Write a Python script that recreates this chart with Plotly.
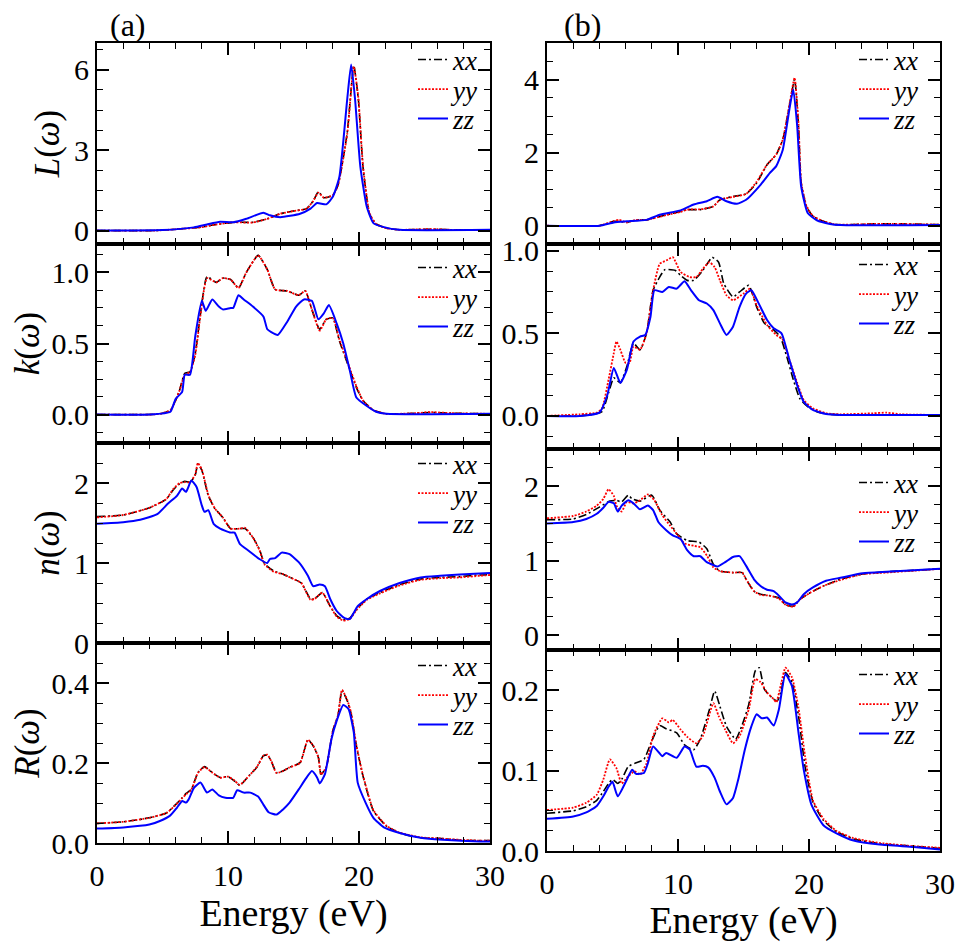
import plotly.graph_objects as go

# ---------------- data ----------------
# (a) column: L(w)
aL_E = [0, 4, 4.8, 6, 7.9, 9, 10.4, 11.9, 13, 14, 15, 16, 16.5, 16.9, 17.3, 18, 18.4, 19.1, 19.6, 19.95, 20.3, 20.8, 21.3, 22.1, 23.1, 25, 26, 27, 30]
aL_xx = [0, 0, 0.01, 0.05, 0.13, 0.22, 0.31, 0.31, 0.44, 0.63, 0.73, 0.82, 1.1, 1.45, 1.23, 1.32, 1.7, 3.65, 6.16, 4.9, 2.4, 0.63, 0.25, 0.09, 0.03, 0.05, 0.05, 0.03, 0.02]
aL_yy = [0, 0, 0.01, 0.05, 0.12, 0.22, 0.31, 0.30, 0.44, 0.63, 0.73, 0.82, 1.1, 1.42, 1.23, 1.32, 1.7, 3.6, 6.12, 4.95, 2.45, 0.65, 0.25, 0.09, 0.03, 0.05, 0.05, 0.03, 0.02]
aL_E_zz = [0, 5, 7.4, 8.4, 9.4, 10.4, 11.4, 12.7, 13.2, 14, 15.5, 16.3, 16.8, 17.5, 18, 18.5, 19.1, 19.4, 19.7, 20.1, 20.6, 21.1, 21.9, 23.1, 30]
aL_zz = [0, 0.02, 0.12, 0.23, 0.33, 0.31, 0.44, 0.67, 0.57, 0.5, 0.63, 0.82, 1.03, 0.98, 1.26, 2.0, 4.9, 6.2, 4.9, 2.4, 0.88, 0.28, 0.13, 0.03, 0.03]

# (b) column: L(w)
bL_E = [0, 4.0, 5.1, 5.5, 6.1, 6.8, 7.6, 9.1, 10.2, 10.7, 11.7, 12.7, 13.2, 14.2, 15.2, 16.0, 16.8, 17.5, 18.0, 18.5, 18.9, 19.2, 19.4, 19.8, 20.3, 21.1, 22.1, 25, 27, 30]
bL_xx = [0, 0, 0.12, 0.12, 0.09, 0.16, 0.16, 0.30, 0.39, 0.44, 0.44, 0.53, 0.71, 0.80, 0.87, 1.17, 1.67, 1.95, 2.36, 3.27, 4.0, 2.72, 1.17, 0.53, 0.26, 0.12, 0.03, 0.05, 0.05, 0.03]
bL_yy = [0, 0, 0.13, 0.16, 0.09, 0.16, 0.16, 0.29, 0.38, 0.44, 0.45, 0.53, 0.71, 0.79, 0.87, 1.2, 1.67, 1.95, 2.36, 3.3, 4.05, 2.8, 1.2, 0.55, 0.27, 0.12, 0.03, 0.05, 0.05, 0.03]
bL_E_zz = [0, 4, 5.1, 6.1, 7.6, 8.6, 10.2, 11.2, 12.2, 13, 13.7, 14.5, 15.2, 16.3, 17, 17.5, 18, 18.5, 18.8, 19.1, 19.4, 19.9, 20.6, 21.6, 22.4, 30]
bL_zz = [0, 0, 0.09, 0.12, 0.16, 0.30, 0.42, 0.58, 0.67, 0.79, 0.67, 0.60, 0.71, 1.12, 1.44, 1.63, 2.08, 3.18, 3.73, 2.72, 1.08, 0.35, 0.15, 0.05, 0.02, 0.02]

# (a) column: k(w)
ak_E = [0, 4.0, 4.8, 5.6, 6.0, 6.3, 6.7, 7.1, 7.5, 7.9, 8.4, 9.1, 9.6, 10.2, 10.8, 11.4, 12.3, 13.0, 13.6, 14.5, 15.4, 15.9, 16.4, 17.0, 17.5, 18.0, 18.5, 19.2, 19.8, 20.3, 21.1, 22.1, 24.4, 25.4, 27, 30]
ak_xx = [0, 0, 0.005, 0.03, 0.10, 0.17, 0.29, 0.30, 0.43, 0.71, 0.97, 0.93, 0.96, 0.95, 0.89, 1.0, 1.12, 1.02, 0.88, 0.87, 0.84, 0.87, 0.74, 0.60, 0.67, 0.68, 0.52, 0.34, 0.19, 0.10, 0.03, 0.005, 0.01, 0.015, 0.01, 0.005]
ak_yy = [0, 0, 0.005, 0.03, 0.10, 0.17, 0.28, 0.30, 0.42, 0.70, 0.96, 0.93, 0.96, 0.95, 0.89, 1.0, 1.12, 1.02, 0.88, 0.87, 0.84, 0.87, 0.74, 0.59, 0.67, 0.68, 0.53, 0.35, 0.20, 0.10, 0.03, 0.005, 0.01, 0.018, 0.01, 0.005]
ak_E_zz = [0, 4, 5.6, 6.0, 6.5, 6.7, 7.1, 7.5, 8.0, 8.3, 8.8, 9.3, 9.6, 10.2, 10.4, 10.8, 11.2, 11.9, 12.7, 13.0, 13.3, 13.8, 14.5, 15.2, 15.8, 16.4, 16.9, 17.3, 17.7, 18.3, 18.8, 19.3, 19.8, 20.6, 21.3, 22.1, 30]
ak_zz = [0, 0, 0.02, 0.11, 0.16, 0.28, 0.28, 0.55, 0.80, 0.73, 0.81, 0.76, 0.74, 0.75, 0.75, 0.84, 0.81, 0.76, 0.69, 0.60, 0.58, 0.56, 0.65, 0.76, 0.81, 0.80, 0.67, 0.71, 0.77, 0.64, 0.50, 0.31, 0.12, 0.06, 0.02, 0.005, 0.005]

# (b) column: k(w)
bk_E_xx = [0, 2.5, 3.5, 4.2, 4.7, 5.1, 5.6, 6.1, 6.6, 7.1, 7.6, 8.1, 8.6, 9.0, 9.8, 10.2, 10.7, 11.2, 11.8, 12.4, 12.6, 13.1, 13.5, 14.2, 14.7, 15.4, 16.0, 16.6, 17.3, 17.8, 18.3, 18.8, 19.3, 19.9, 20.6, 21.3, 22.4, 30]
bk_xx = [0, 0, 0.01, 0.026, 0.14, 0.23, 0.20, 0.30, 0.44, 0.40, 0.50, 0.76, 0.84, 0.885, 0.88, 0.85, 0.82, 0.82, 0.87, 0.94, 0.96, 0.93, 0.80, 0.72, 0.75, 0.79, 0.66, 0.56, 0.52, 0.48, 0.36, 0.22, 0.105, 0.056, 0.026, 0.012, 0.006, 0.006]
bk_E_yy = [0, 2.5, 3.8, 4.2, 4.7, 5.1, 5.3, 5.6, 6.0, 6.3, 6.6, 7.1, 7.6, 8.1, 8.6, 9.1, 9.6, 10.2, 10.9, 11.4, 11.9, 12.4, 12.8, 13.2, 13.7, 14.2, 15.0, 15.5, 16.0, 16.8, 17.5, 18.0, 18.5, 19.1, 19.6, 20.3, 21.3, 22.4, 24.9, 25.9, 27, 30]
bk_yy = [0, 0.01, 0.02, 0.045, 0.22, 0.38, 0.45, 0.40, 0.32, 0.32, 0.42, 0.40, 0.50, 0.76, 0.92, 0.94, 0.96, 0.87, 0.84, 0.84, 0.89, 0.93, 0.90, 0.82, 0.73, 0.70, 0.74, 0.77, 0.67, 0.55, 0.49, 0.46, 0.34, 0.20, 0.095, 0.046, 0.016, 0.01, 0.016, 0.02, 0.01, 0.006]
bk_E_zz = [0, 2.5, 4.0, 4.6, 5.1, 5.6, 6.1, 6.6, 7.1, 7.5, 7.9, 8.2, 8.8, 9.3, 9.9, 10.5, 11.0, 11.6, 12.2, 12.7, 13.2, 13.7, 14.2, 14.7, 15.2, 15.6, 16.1, 16.8, 17.3, 17.9, 18.5, 19.1, 19.6, 20.3, 21.3, 22.4, 30]
bk_zz = [0, 0, 0.02, 0.125, 0.29, 0.20, 0.28, 0.45, 0.48, 0.49, 0.60, 0.76, 0.75, 0.78, 0.77, 0.815, 0.76, 0.70, 0.68, 0.64, 0.56, 0.49, 0.54, 0.66, 0.74, 0.76, 0.69, 0.58, 0.53, 0.50, 0.34, 0.185, 0.085, 0.036, 0.012, 0.006, 0.006]

# (a) column: n(w)
an_E = [0, 2, 4, 5.3, 5.8, 6.3, 6.7, 7.1, 7.5, 7.7, 8.0, 8.5, 9.0, 9.6, 10.2, 10.9, 11.3, 11.9, 12.4, 12.8, 13.5, 14.2, 15.0, 15.6, 16.3, 16.6, 17.2, 17.8, 18.3, 18.8, 19.3, 19.8, 20.6, 21.6, 23.1, 24.7, 26.2, 27.7, 29.2, 30]
an_xx = [1.58, 1.60, 1.69, 1.80, 1.91, 1.99, 2.02, 2.01, 2.10, 2.24, 2.16, 1.84, 1.68, 1.57, 1.43, 1.43, 1.43, 1.32, 1.17, 0.99, 0.90, 0.86, 0.80, 0.75, 0.55, 0.55, 0.63, 0.46, 0.34, 0.29, 0.31, 0.42, 0.55, 0.63, 0.73, 0.80, 0.82, 0.83, 0.85, 0.855]
an_yy = [1.57, 1.60, 1.69, 1.80, 1.92, 2.00, 2.01, 2.01, 2.11, 2.25, 2.17, 1.85, 1.68, 1.57, 1.43, 1.43, 1.44, 1.32, 1.16, 0.98, 0.89, 0.86, 0.80, 0.75, 0.54, 0.55, 0.63, 0.46, 0.33, 0.28, 0.30, 0.41, 0.54, 0.62, 0.72, 0.79, 0.81, 0.82, 0.84, 0.85]
an_E_zz = [0, 2, 3.3, 4.6, 5.4, 6.1, 6.5, 6.8, 7.2, 7.6, 8.0, 8.2, 8.5, 8.9, 9.4, 10.2, 10.5, 10.9, 11.6, 12.4, 13.0, 13.2, 13.6, 14.1, 14.7, 15.4, 16.1, 16.5, 17.0, 17.4, 17.8, 18.3, 18.9, 19.3, 19.9, 20.6, 21.6, 23.1, 24.7, 26.2, 29.2, 30]
an_zz = [1.49, 1.51, 1.54, 1.61, 1.74, 1.84, 1.93, 1.89, 2.03, 1.95, 1.72, 1.64, 1.66, 1.49, 1.43, 1.38, 1.38, 1.24, 1.15, 1.05, 1.0, 1.05, 1.06, 1.13, 1.11, 1.01, 0.84, 0.71, 0.73, 0.71, 0.55, 0.40, 0.31, 0.30, 0.46, 0.55, 0.65, 0.75, 0.82, 0.84, 0.87, 0.875]

# (b) column: n(w)
bn_E_xx = [0, 2, 3, 4.0, 4.8, 5.3, 5.7, 6.2, 6.5, 7.1, 8.0, 8.6, 9.4, 9.9, 10.7, 11.6, 12.2, 12.7, 13.2, 14.2, 14.9, 15.2, 15.8, 16.3, 17.0, 17.7, 18.2, 18.8, 19.3, 20.1, 21.1, 22.4, 24.1, 25.9, 28.0, 30]
bn_xx = [1.55, 1.56, 1.62, 1.72, 1.80, 1.81, 1.79, 1.88, 1.83, 1.80, 1.88, 1.68, 1.52, 1.36, 1.27, 1.25, 1.16, 0.95, 0.86, 0.84, 0.84, 0.75, 0.59, 0.55, 0.53, 0.50, 0.41, 0.39, 0.48, 0.57, 0.66, 0.75, 0.82, 0.85, 0.87, 0.89]
bn_E_yy = [0, 2, 3, 3.8, 4.3, 4.7, 5.1, 5.3, 5.7, 6.1, 6.6, 7.1, 7.7, 8.2, 8.8, 9.4, 10.0, 10.5, 11.2, 11.7, 12.2, 12.7, 13.2, 14.2, 14.9, 15.2, 15.8, 16.3, 17.0, 17.7, 18.2, 18.8, 19.3, 20.1, 21.1, 22.4, 24.1, 25.9, 28.0, 30]
bn_yy = [1.57, 1.60, 1.66, 1.74, 1.83, 1.96, 1.87, 1.74, 1.66, 1.79, 1.77, 1.81, 1.89, 1.81, 1.61, 1.47, 1.34, 1.23, 1.20, 1.18, 1.07, 0.91, 0.86, 0.84, 0.84, 0.75, 0.59, 0.54, 0.53, 0.49, 0.41, 0.38, 0.48, 0.57, 0.66, 0.74, 0.82, 0.84, 0.865, 0.89]
bn_E_zz = [0, 2, 3, 3.8, 4.3, 4.7, 5.1, 5.4, 5.7, 6.2, 6.6, 7.1, 7.7, 8.1, 8.5, 9.1, 9.6, 10.2, 10.7, 11.2, 11.7, 12.2, 12.7, 13.0, 13.6, 14.2, 14.7, 15.2, 15.8, 16.3, 16.8, 17.3, 17.7, 18.2, 18.7, 19.1, 19.6, 20.3, 21.3, 22.4, 24.1, 25.9, 28, 30]
bn_zz = [1.50, 1.52, 1.56, 1.63, 1.71, 1.79, 1.77, 1.66, 1.74, 1.81, 1.77, 1.69, 1.74, 1.68, 1.52, 1.41, 1.34, 1.29, 1.14, 1.06, 1.06, 0.98, 0.94, 0.92, 0.98, 1.05, 1.06, 0.93, 0.75, 0.66, 0.61, 0.59, 0.53, 0.44, 0.41, 0.44, 0.55, 0.64, 0.73, 0.77, 0.83, 0.85, 0.87, 0.89]

# (a) column: R(w)
aR_E = [0, 2, 4, 5.3, 6.0, 6.5, 6.8, 7.2, 7.7, 8.2, 8.8, 9.4, 10.0, 10.5, 10.9, 11.6, 12.2, 12.7, 13.0, 13.3, 13.7, 14.2, 14.7, 15.5, 16.1, 16.5, 16.9, 17.1, 17.5, 18.0, 18.4, 18.7, 19.1, 19.4, 19.8, 20.3, 21.1, 22.1, 23.1, 24.7, 26.4, 27.7, 29.2, 30]
aR_xx = [0.049, 0.053, 0.063, 0.075, 0.096, 0.113, 0.124, 0.134, 0.176, 0.191, 0.176, 0.164, 0.166, 0.155, 0.144, 0.168, 0.189, 0.218, 0.22, 0.205, 0.176, 0.18, 0.189, 0.201, 0.258, 0.243, 0.214, 0.172, 0.189, 0.281, 0.319, 0.381, 0.356, 0.323, 0.243, 0.168, 0.08, 0.042, 0.025, 0.013, 0.011, 0.007, 0.006, 0.006]
aR_yy = [0.049, 0.053, 0.063, 0.075, 0.095, 0.112, 0.122, 0.133, 0.175, 0.190, 0.176, 0.163, 0.166, 0.156, 0.145, 0.168, 0.19, 0.218, 0.221, 0.205, 0.175, 0.18, 0.189, 0.2, 0.258, 0.244, 0.214, 0.171, 0.19, 0.28, 0.32, 0.383, 0.358, 0.325, 0.245, 0.17, 0.082, 0.043, 0.026, 0.014, 0.011, 0.008, 0.006, 0.006]
aR_E_zz = [0, 2, 4, 4.8, 5.6, 6.1, 6.5, 6.8, 7.0, 7.4, 7.9, 8.4, 8.8, 9.3, 9.8, 10.4, 10.7, 11.2, 11.7, 12.3, 12.7, 13.1, 13.7, 14.2, 14.7, 15.4, 15.9, 16.4, 16.8, 17.0, 17.4, 17.9, 18.3, 18.8, 19.2, 19.6, 19.9, 20.5, 21.1, 21.9, 23.1, 24.7, 26.4, 29.2, 30]
aR_zz = [0.036, 0.039, 0.046, 0.055, 0.069, 0.088, 0.105, 0.101, 0.109, 0.138, 0.151, 0.126, 0.134, 0.119, 0.113, 0.113, 0.132, 0.126, 0.126, 0.116, 0.096, 0.077, 0.071, 0.084, 0.101, 0.134, 0.159, 0.180, 0.164, 0.149, 0.172, 0.26, 0.306, 0.345, 0.335, 0.277, 0.151, 0.101, 0.063, 0.039, 0.025, 0.013, 0.008, 0.004, 0.004]

# (b) column: R(w)
bR_E_xx = [0, 2, 3, 3.8, 4.3, 4.7, 5.0, 5.4, 5.7, 6.2, 6.7, 7.4, 8.0, 8.6, 9.1, 9.9, 10.5, 11.2, 11.7, 12.4, 12.8, 13.2, 13.7, 14.4, 14.9, 15.4, 15.9, 16.2, 16.6, 17.3, 17.6, 17.9, 18.2, 18.7, 19.2, 19.7, 20.3, 21.1, 22.1, 23.4, 25.4, 28, 30]
bR_xx = [0.047, 0.05, 0.055, 0.063, 0.074, 0.084, 0.089, 0.084, 0.089, 0.105, 0.109, 0.114, 0.137, 0.156, 0.152, 0.147, 0.132, 0.126, 0.139, 0.176, 0.199, 0.180, 0.155, 0.139, 0.157, 0.182, 0.224, 0.228, 0.201, 0.189, 0.187, 0.201, 0.222, 0.21, 0.168, 0.105, 0.061, 0.038, 0.024, 0.015, 0.009, 0.006, 0.003]
bR_E_yy = [0, 2, 3, 3.8, 4.3, 4.8, 5.3, 5.7, 6.2, 6.7, 7.1, 7.6, 8.1, 8.8, 9.3, 9.6, 10.2, 10.7, 11.4, 11.9, 12.7, 13.1, 13.6, 14.2, 14.7, 15.4, 15.9, 16.3, 16.8, 17.3, 17.5, 17.9, 18.2, 18.7, 19.2, 19.7, 20.3, 21.1, 22.1, 23.4, 25.4, 28, 30]
bR_yy = [0.051, 0.054, 0.06, 0.07, 0.089, 0.114, 0.103, 0.084, 0.093, 0.099, 0.095, 0.109, 0.143, 0.165, 0.16, 0.163, 0.151, 0.142, 0.134, 0.143, 0.184, 0.168, 0.151, 0.134, 0.143, 0.176, 0.214, 0.21, 0.197, 0.189, 0.185, 0.21, 0.228, 0.216, 0.178, 0.118, 0.063, 0.04, 0.025, 0.016, 0.01, 0.006, 0.004]
bR_E_zz = [0, 2, 3, 3.8, 4.3, 4.7, 5.0, 5.4, 6.1, 6.5, 6.8, 7.4, 7.7, 8.1, 8.8, 9.1, 9.9, 10.5, 10.9, 11.4, 11.9, 12.3, 12.8, 13.2, 13.7, 14.2, 14.6, 15.1, 15.6, 16.0, 16.4, 16.8, 17.3, 17.7, 18.2, 18.7, 19.2, 19.6, 20.2, 21.1, 22.1, 23.4, 25.4, 28, 30]
bR_zz = [0.040, 0.043, 0.048, 0.056, 0.068, 0.08, 0.086, 0.068, 0.089, 0.101, 0.096, 0.097, 0.109, 0.13, 0.118, 0.122, 0.116, 0.13, 0.126, 0.105, 0.106, 0.104, 0.091, 0.074, 0.058, 0.066, 0.089, 0.126, 0.155, 0.17, 0.165, 0.166, 0.156, 0.176, 0.22, 0.205, 0.147, 0.101, 0.057, 0.032, 0.022, 0.013, 0.008, 0.005, 0.002]

series_names = ["xx", "yy", "zz"]
y_titles = ["<i>L</i>(<i>ω</i>)", "<i>k</i>(<i>ω</i>)", "<i>n</i>(<i>ω</i>)", "<i>R</i>(<i>ω</i>)"]
panel_labels = ["(a)", "(b)"]
x_ticks = [0, 10, 20, 30]

panels = [
    ((aL_E, aL_xx), (aL_E, aL_yy), (aL_E_zz, aL_zz)),
    ((ak_E, ak_xx), (ak_E, ak_yy), (ak_E_zz, ak_zz)),
    ((an_E, an_xx), (an_E, an_yy), (an_E_zz, an_zz)),
    ((aR_E, aR_xx), (aR_E, aR_yy), (aR_E_zz, aR_zz)),
    ((bL_E, bL_xx), (bL_E, bL_yy), (bL_E_zz, bL_zz)),
    ((bk_E_xx, bk_xx), (bk_E_yy, bk_yy), (bk_E_zz, bk_zz)),
    ((bn_E_xx, bn_xx), (bn_E_yy, bn_yy), (bn_E_zz, bn_zz)),
    ((bR_E_xx, bR_xx), (bR_E_yy, bR_yy), (bR_E_zz, bR_zz)),
]
for p in panels:
    for e, v in p:
        assert len(e) == len(v), (len(e), len(v), v[:3])

# ---------------- styling / layout ----------------
# The page body has an 8px margin, so the figure is 8px smaller than the window
# and all page positions below are converted with that offset.
OFF = 8
W, H = 967 - OFF, 942 - OFF


def fx(px):
    return (px - OFF) / W


def fy(py):
    return 1 - (py - OFF) / H


FONT = "Liberation Serif"
styles = [
    dict(color="black", width=1.6, dash="8px,3px,2px,3px"),
    dict(color="#ff0000", width=1.8, dash="2px,1.5px"),
    dict(color="#0000ff", width=2.0, dash="solid"),
]
col_x = [(97, 490), (547, 940)]
row_px = [
    [(43, 244), (244, 443), (443, 643), (643, 843)],
    [(43, 244), (244, 449), (449, 650), (650, 851)],
]
y_ranges = [
    [[-0.5, 7], [-0.2, 1.2], [0, 2.5], [0, 0.5]],
    [[-0.5, 5], [-0.2, 1.04], [-0.2, 2.5], [0, 0.25]],
]
y_dticks = [[3, 0.5, 1, 0.2], [2, 0.5, 1, 0.1]]
y_fmt = [[None, ".1f", None, ".1f"], [None, ".1f", None, ".1f"]]
leg_first = [[60, 268, 464, 666], [60, 265, 483, 675]]
leg_step = 29.5
leg_text_x = [451, 892]

fig = go.Figure()
layout = dict(
    width=W, height=H, margin=dict(l=0, r=0, t=0, b=0, autoexpand=False),
    paper_bgcolor="white", plot_bgcolor="white",
    font=dict(family=FONT, color="black", size=30),
    showlegend=True, annotations=[],
)

idx = 0
lidx = 0
for c in range(2):
    for r in range(4):
        idx += 1
        sfx = "" if idx == 1 else str(idx)
        for s, (e, v) in enumerate(panels[idx - 1]):
            lidx += 1
            legname = "legend" if lidx == 1 else "legend%d" % lidx
            fig.add_trace(go.Scatter(
                x=e, y=v, mode="lines", name="<i>%s</i>" % series_names[s],
                line=dict(shape="spline", smoothing=0.5, **styles[s]),
                xaxis="x" + sfx, yaxis="y" + sfx, legend=legname,
            ))
            layout[legname] = dict(
                x=fx(leg_text_x[c] - 38), xanchor="left",
                y=fy(leg_first[c][r] + s * leg_step), yanchor="middle",
                bgcolor="rgba(0,0,0,0)", borderwidth=0,
                font=dict(family=FONT, size=27, color="black"), itemwidth=30,
            )
        top, bot = row_px[c][r]
        x0, x1 = col_x[c]
        common = dict(showline=True, linewidth=2, linecolor="black", mirror="allticks",
                      ticks="inside", ticklen=12, tickwidth=1.6, tickcolor="black",
                      showgrid=False, zeroline=False, automargin=False,
                      tickfont=dict(family=FONT, size=30, color="black"))
        xa = dict(common, domain=[fx(x0), fx(x1)], anchor="y" + sfx, range=[0, 30],
                  tickmode="array", tickvals=x_ticks,
                  minor=dict(dtick=2, tick0=0, ticks="inside", ticklen=6, tickwidth=1.4, tickcolor="black", showgrid=False),
                  showticklabels=(r == 3), ticklabelstandoff=5)
        if r == 3:
            xa["title"] = dict(text="Energy (eV)", font=dict(family=FONT, size=38, color="black"), standoff=0)
        ya = dict(common, domain=[fy(bot), fy(top)], anchor="x" + sfx,
                  range=y_ranges[c][r], dtick=y_dticks[c][r], tick0=0,
                  minor=dict(dtick=y_dticks[c][r] / 4, tick0=0, ticks="inside", ticklen=6, tickwidth=1.4, tickcolor="black", showgrid=False))
        if y_fmt[c][r]:
            ya["tickformat"] = y_fmt[c][r]
        if c == 0:
            ya["title"] = dict(text=y_titles[r], font=dict(family=FONT, size=35, color="black"), standoff=4)
        layout["xaxis" + sfx] = xa
        layout["yaxis" + sfx] = ya

for c in range(2):
    layout["annotations"].append(dict(
        text=panel_labels[c], xref="paper", yref="paper",
        x=fx([128, 582][c]), y=fy(25), xanchor="center", yanchor="middle",
        showarrow=False, font=dict(family=FONT, size=32, color="black")))

fig.update_layout(**layout)
fig.write_html("out.html")
